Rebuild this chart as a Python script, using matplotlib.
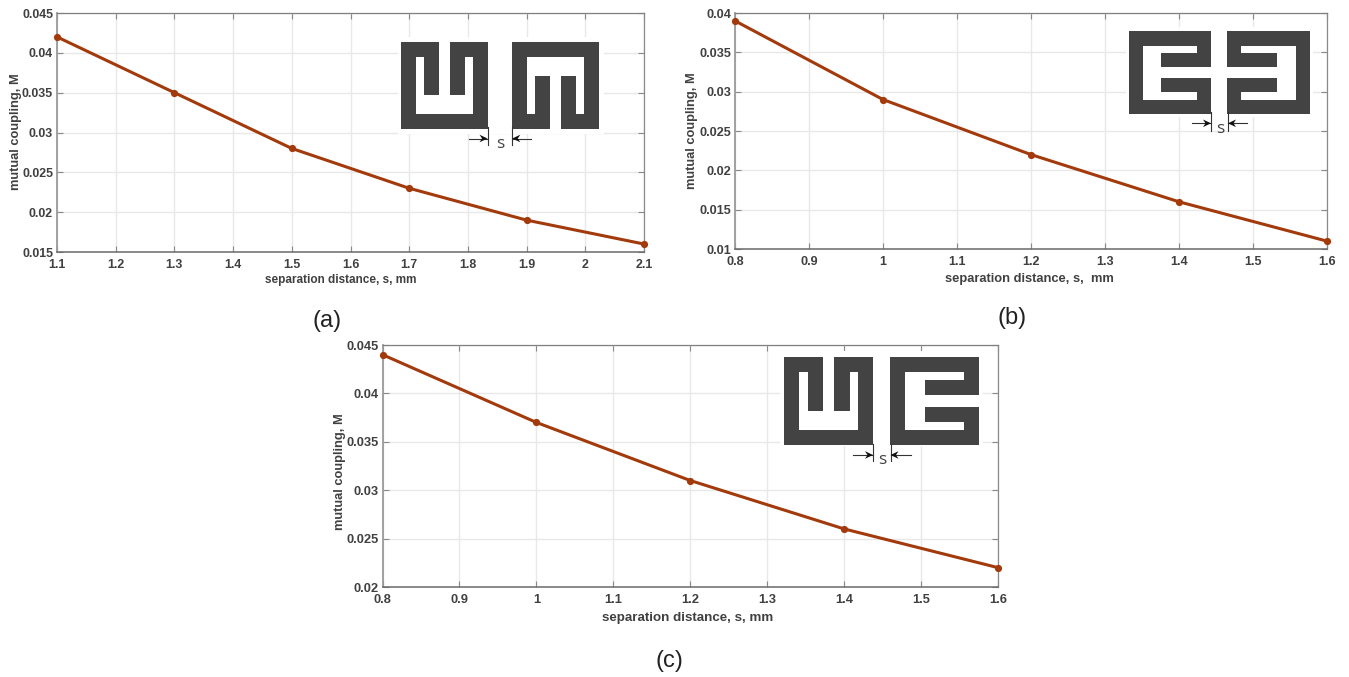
import numpy as np
import matplotlib
matplotlib.use("Agg")
import matplotlib.pyplot as plt
from matplotlib.patches import Rectangle
from matplotlib.transforms import Affine2D

plt.rcParams['font.family'] = ['Liberation Sans', 'DejaVu Sans']

W, H = 1349, 677

# panel data
sep_a = [1.1, 1.3, 1.5, 1.7, 1.9, 2.1]
mc_a = [0.042, 0.035, 0.028, 0.023, 0.019, 0.016]
sep_b = [0.8, 1.0, 1.2, 1.4, 1.6]
mc_b = [0.039, 0.029, 0.022, 0.016, 0.011]
sep_c = [0.8, 1.0, 1.2, 1.4, 1.6]
mc_c = [0.044, 0.037, 0.031, 0.026, 0.022]

xticks_a = [1.1, 1.2, 1.3, 1.4, 1.5, 1.6, 1.7, 1.8, 1.9, 2, 2.1]
yticks_a = [0.015, 0.02, 0.025, 0.03, 0.035, 0.04, 0.045]
xticks_b = [0.8, 0.9, 1, 1.1, 1.2, 1.3, 1.4, 1.5, 1.6]
yticks_b = [0.01, 0.015, 0.02, 0.025, 0.03, 0.035, 0.04]
xticks_c = [0.8, 0.9, 1, 1.1, 1.2, 1.3, 1.4, 1.5, 1.6]
yticks_c = [0.02, 0.025, 0.03, 0.035, 0.04, 0.045]

xlabel_ac = "separation distance, s, mm"
xlabel_b = "separation distance, s,  mm"
ylabel = "mutual coupling, M"
captions = ["(a)", "(b)", "(c)"]

LINE = "#A33A0C"
DARK = "#434343"
TEXT = "#404040"
GRID = "#E8E8E8"

fig = plt.figure(figsize=(W / 100, H / 100), dpi=100, facecolor="white")
# pixel coordinates, y pointing down like the reference
px = Affine2D().scale(1 / W, -1 / H).translate(0, 1) + fig.transFigure


def rect(x0, x1, y0, y1, color, z=5):
    fig.add_artist(Rectangle((x0, y0), x1 - x0, y1 - y0, transform=px,
                             facecolor=color, edgecolor="none", zorder=z))


def panel(box, x, y, xticks, yticks, xlabel, xlabel_xy, ylabel_xy, tick_fs, xlabel_fs):
    left, right, top, bottom = box
    ax = fig.add_axes([left / W, 1 - bottom / H, (right - left) / W, (bottom - top) / H])
    ax.plot(x, y, color=LINE, lw=2.2, marker="o", ms=5.2, mew=0, clip_on=False, zorder=4)
    ax.set_xlim(xticks[0], xticks[-1])
    ax.set_ylim(yticks[0], yticks[-1])
    ax.set_xticks(xticks)
    ax.set_yticks(yticks)
    ax.set_xticklabels(["%g" % v for v in xticks])
    ax.set_yticklabels(["%g" % v for v in yticks])
    ax.grid(True, color=GRID, lw=1)
    ax.set_axisbelow(True)
    ax.tick_params(direction="in", length=4.2, width=0.8, color="#8A8A8A", top=True, right=True,
                   labelsize=tick_fs, labelcolor=TEXT)
    ax.tick_params(axis="x", pad=5)
    ax.tick_params(axis="y", pad=2.8)
    for lab in ax.get_xticklabels() + ax.get_yticklabels():
        lab.set_fontweight("bold")
    for name, col, wid in (("left", "#9A9A9A", 1.3), ("bottom", "#6A6A6A", 1.1),
                           ("top", "#808080", 0.9), ("right", "#8A8A8A", 0.9)):
        ax.spines[name].set_color(col)
        ax.spines[name].set_linewidth(wid)
    fig.text(xlabel_xy[0] / W, 1 - xlabel_xy[1] / H, xlabel, fontsize=xlabel_fs, fontweight="bold",
             color=TEXT, ha="center", va="center")
    fig.text(ylabel_xy[0] / W, 1 - ylabel_xy[1] / H, ylabel, fontsize=9.3, fontweight="bold",
             color=TEXT, ha="center", va="center", rotation=90)


def dim_marks(xl, xr, y0, y1, ya, reach, sx, sy):
    # the two witness lines with their arrows and the s between them
    for xv in (xl, xr):
        fig.add_artist(plt.Line2D([xv, xv], [y0, y1], transform=px, color="#333333", lw=0.8, zorder=6))
    for a, b in ((xl - reach, xl), (xr + reach, xr)):
        fig.add_artist(plt.Line2D([a, b], [ya, ya], transform=px, color="#333333", lw=0.8, zorder=6))
        d = 1 if b > a else -1
        fig.add_artist(plt.Polygon([[b, ya], [b - 8 * d, ya - 3.8], [b - 5.5 * d, ya], [b - 8 * d, ya + 3.8]],
                                   transform=px, facecolor="#111111", edgecolor="none", zorder=6))
    fig.text(sx / W, 1 - sy / H, "s", fontsize=12.5, color="#444444", family="Open Sans",
             ha="center", va="center", zorder=6)


panel((57, 644, 13, 252), sep_a, mc_a, xticks_a, yticks_a, xlabel_ac, (341, 280.5), (16.5, 132), 8.9, 8.5)
panel((735, 1327, 13, 249), sep_b, mc_b, xticks_b, yticks_b, xlabel_b, (1029, 279), (692.5, 131), 9.1, 9.3)
panel((382.5, 998, 345, 587), sep_c, mc_c, xticks_c, yticks_c, xlabel_ac, (688, 618), (339.5, 472), 9.3, 9.6)

# inset (a)
rect(398, 604, 37, 133.5, "white", 4)
rect(401.3, 488.3, 42.3, 129, DARK)
rect(416, 473.3, 57, 114, "white", 6)
rect(424.3, 439.3, 42.3, 95, DARK, 7)
rect(450.3, 465.3, 42.3, 95, DARK, 7)
rect(439.3, 450.3, 42.3, 57, "white", 7)
rect(512.3, 599.3, 42.3, 129, DARK)
rect(527.3, 584.3, 57, 114, "white", 6)
rect(535.3, 550.3, 76, 129, DARK, 7)
rect(561, 576, 76, 129, DARK, 7)
rect(550.3, 561, 114, 129, "white", 7)
dim_marks(487.5, 512.3, 127, 145, 138.5, 19, 500, 144)

# inset (b)
rect(1126, 1313, 27, 117, "white", 4)
rect(1129, 1211.3, 31.3, 113.7, DARK)
rect(1143, 1197.3, 45.7, 99.7, "white", 6)
rect(1161.3, 1211.3, 53.3, 67.3, DARK, 7)
rect(1161.3, 1211.3, 77.7, 91.7, DARK, 7)
rect(1197.3, 1211.3, 67.3, 77.7, "white", 7)
rect(1227.3, 1309.7, 31.3, 113.7, DARK)
rect(1241.3, 1295.7, 45.7, 99.7, "white", 6)
rect(1227.3, 1277.3, 53.3, 67.3, DARK, 7)
rect(1227.3, 1277.3, 77.7, 91.7, DARK, 7)
rect(1227.3, 1241.3, 67.3, 77.7, "white", 7)
dim_marks(1211, 1228, 112, 131, 123.3, 19, 1220, 129)

# inset (c)
rect(780, 983, 351, 446, "white", 4)
rect(784.3, 873, 356.7, 445.3, DARK)
rect(799.3, 858, 372, 430.3, "white", 6)
rect(808, 823.3, 356.7, 410.7, DARK, 7)
rect(834.3, 849.7, 356.7, 410.7, DARK, 7)
rect(823.3, 834.3, 356.7, 372, "white", 7)
rect(890.3, 979, 356.7, 445.3, DARK)
rect(905, 964, 372, 430.3, "white", 6)
rect(924.7, 979, 380, 395.3, DARK, 7)
rect(924.7, 979, 406.7, 422, DARK, 7)
rect(964, 979, 395.3, 406.7, "white", 7)
dim_marks(873, 890.5, 444, 461, 455, 20, 882, 460.5)

# captions
for txt, cx, cy in zip(captions, (327, 1012, 669), (321, 318, 661)):
    fig.text(cx / W, 1 - cy / H, txt, fontsize=17, color="#222222", ha="center", va="center")

fig.savefig("out.png", dpi=100, facecolor="white")
